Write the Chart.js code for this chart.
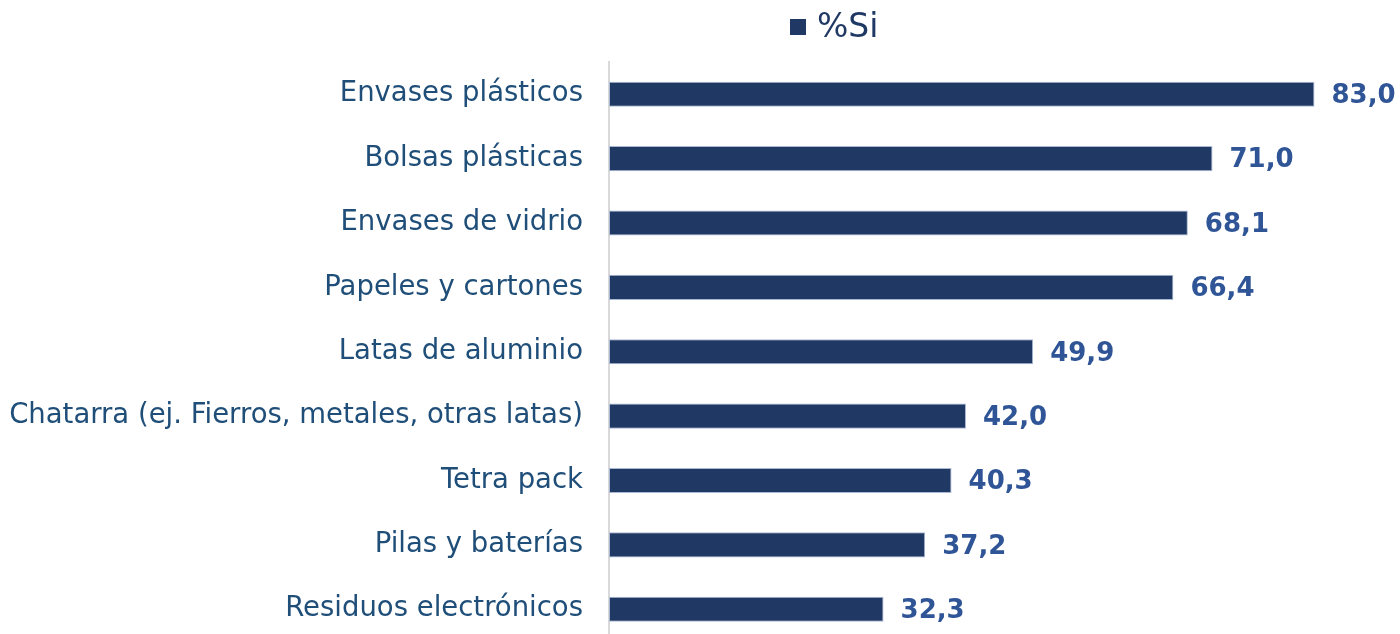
<!DOCTYPE html>
<html>
<head>
<meta charset="utf-8">
<script src="https://cdn.jsdelivr.net/npm/chart.js@4/dist/chart.umd.min.js"></script>
<style>
  html, body { margin: 0; padding: 0; background: #fff; overflow: hidden; }
  canvas { display: block; }
</style>
</head>
<body>
<canvas id="chart" width="1400" height="684"></canvas>
<script>
const categories = [
  'Envases plásticos',
  'Bolsas plásticas',
  'Envases de vidrio',
  'Papeles y cartones',
  'Latas de aluminio',
  'Chatarra (ej. Fierros, metales, otras latas)',
  'Tetra pack',
  'Pilas y baterías',
  'Residuos electrónicos'
]
const seriesLabel = '%Si'
const siValues = [83.0, 71.0, 68.1, 66.4, 49.9, 42.0, 40.3, 37.2, 32.3]

const FONT = "'DejaVu Sans', Verdana, sans-serif"

// value labels at the end of each bar
const valueLabels = {
  id: 'valueLabels',
  afterDatasetsDraw(chart) {
    const ctx = chart.ctx
    const meta = chart.getDatasetMeta(0)
    ctx.save()
    ctx.font = 'bold 26px ' + FONT
    ctx.fillStyle = '#2F5597'
    ctx.textAlign = 'left'
    ctx.textBaseline = 'middle'
    meta.data.forEach((bar, i) => {
      const txt = siValues[i].toFixed(1).replace('.', ',')
      ctx.fillText(txt, bar.x + 17, bar.y + 2)
    })
    ctx.restore()
  }
}

// small legend at the top
const topLegend = {
  id: 'topLegend',
  afterDraw(chart) {
    const ctx = chart.ctx
    ctx.save()
    ctx.fillStyle = '#203864'
    ctx.fillRect(790, 19, 16, 16)
    ctx.font = '33px ' + FONT
    ctx.fillStyle = '#203864'
    ctx.textBaseline = 'middle'
    ctx.fillText(chart.data.datasets[0].label, 817, 28)
    ctx.restore()
  }
}

new Chart(document.getElementById('chart'), {
  type: 'bar',
  data: {
    labels: categories,
    datasets: [{
      label: seriesLabel,
      data: siValues,
      backgroundColor: '#203864',
      borderColor: '#A9B8D3',
      borderWidth: 1,
      borderSkipped: false,
      categoryPercentage: 1,
      barPercentage: 0.39
    }]
  },
  options: {
    indexAxis: 'y',
    responsive: false,
    devicePixelRatio: 1,
    animation: false,
    layout: {
      padding: { top: 62, bottom: 1, left: 0, right: 26 }
    },
    plugins: {
      legend: { display: false },
      tooltip: { enabled: false }
    },
    scales: {
      x: {
        display: false,
        min: 0,
        max: 90
      },
      y: {
        afterFit(scale) { scale.width = 609 },
        grid: { display: false, drawTicks: false },
        border: { display: true, color: '#D9D9D9', width: 2 },
        ticks: {
          padding: 26,
          color: '#1F4E79',
          font: { family: FONT, size: 27.5 }
        }
      }
    }
  },
  plugins: [valueLabels, topLegend]
})
</script>
</body>
</html>
